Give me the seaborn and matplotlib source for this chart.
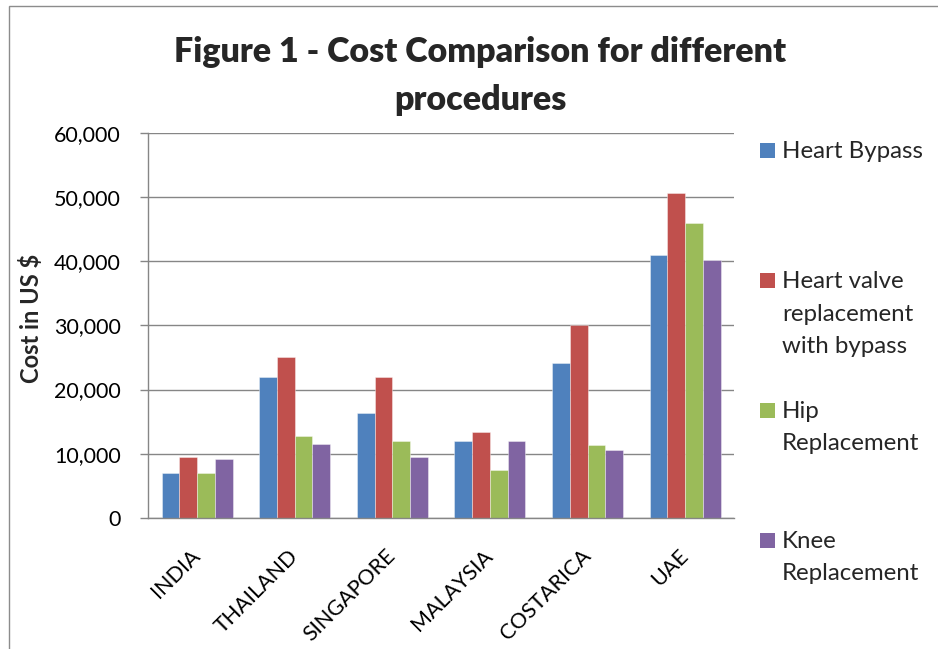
import matplotlib
matplotlib.use("Agg")
import matplotlib.pyplot as plt
from matplotlib.patches import Rectangle
import seaborn as sns
import pandas as pd
from matplotlib.ticker import FuncFormatter, MultipleLocator

countries = ["INDIA", "THAILAND", "SINGAPORE", "MALAYSIA", "COSTARICA", "UAE"]
procedures = ["Heart Bypass", "Heart valve\nreplacement\nwith bypass", "Hip\nReplacement", "Knee\nReplacement"]
heart_bypass = [7000, 22000, 16300, 12000, 24100, 40900]
heart_valve = [9500, 25000, 22000, 13400, 30000, 50600]
hip_replacement = [7000, 12700, 12000, 7500, 11400, 46000]
knee_replacement = [9200, 11500, 9500, 12000, 10600, 40200]
colors = ["#4F81BD", "#C0504D", "#9BBB59", "#8064A2"]
title_text = "Figure 1 - Cost Comparison for different\nprocedures"
ylabel_text = "Cost in US $"

series = [heart_bypass, heart_valve, hip_replacement, knee_replacement]
rows = []
for proc, vals in zip(procedures, series):
    for c, v in zip(countries, vals):
        rows.append({"country": c, "procedure": proc, "cost": v})
df = pd.DataFrame(rows)

sns.set_theme(style="white")
plt.rcParams["font.family"] = ["Lato", "DejaVu Sans"]

W, H = 938, 649
fig = plt.figure(figsize=(W / 100, H / 100), dpi=100)
ax = fig.add_axes([148.3 / W, 1 - 518 / H, (734 - 148.3) / W, (518 - 132.7) / H])

sns.barplot(data=df, x="country", y="cost", hue="procedure", order=countries,
            hue_order=procedures, palette=colors, width=0.727, ax=ax,
            legend=False, saturation=1, edgecolor=(1, 1, 1, 0.45), linewidth=0.6)

grid_c = "#868686"
ax.set_ylim(0, 60000)
ax.yaxis.set_major_locator(MultipleLocator(10000))
ax.yaxis.set_major_formatter(FuncFormatter(lambda v, p: f"{int(v):,}"))
ax.grid(axis="y", color=grid_c, linewidth=1.0)
ax.set_axisbelow(True)
for s in ["top", "right"]:
    ax.spines[s].set_visible(False)
for s in ["left", "bottom"]:
    ax.spines[s].set_color(grid_c)
    ax.spines[s].set_linewidth(1.0)
ax.tick_params(axis="y", which="major", left=True, length=5.8, width=1.0,
               color=grid_c, pad=14, labelsize=15.5, labelcolor="black")
ax.tick_params(axis="x", bottom=False, labelsize=15.5, labelcolor="black", pad=19)
for lab in ax.get_xticklabels():
    lab.set_rotation(45)
    lab.set_ha("right")
    lab.set_va("center")
    lab.set_rotation_mode("anchor")
ax.set_xlabel("")
ax.set_ylabel("")

# y label
fig.text(31 / W, 1 - 318 / H, ylabel_text, rotation=90, fontsize=17, fontweight="bold",
         ha="center", va="center")

# title lines
for i, line in enumerate(title_text.split("\n")):
    fig.text(480 / W, 1 - (62 + i * 48) / H, line, fontsize=24.5, fontweight="heavy",
             ha="center", va="baseline")

# legend drawn manually
first_baselines = [158, 288, 418, 548]
for proc, col, yb in zip(procedures, colors, first_baselines):
    fig.patches.append(Rectangle((760 / W, 1 - yb / H), 15 / W, 15 / H,
                                 transform=fig.transFigure, facecolor=col,
                                 edgecolor="none"))
    for j, line in enumerate(proc.split("\n")):
        fig.text(782 / W, 1 - (yb + j * 32.5) / H, line, fontsize=17.3,
                 ha="left", va="baseline")

# chart border
fig.patches.append(Rectangle((9 / W, -0.1), 1.2, 1 - 6.5 / H + 0.1,
                             transform=fig.transFigure, facecolor="none",
                             edgecolor="#8c8c8c", linewidth=1.0))

fig.savefig("out.png", dpi=100)
